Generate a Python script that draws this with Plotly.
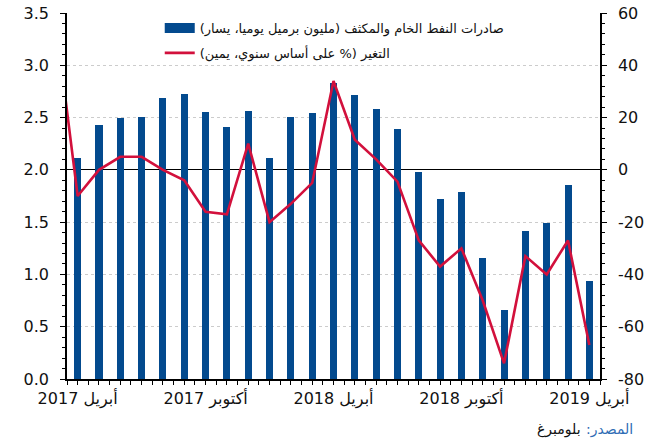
import plotly.graph_objects as go

# Months April 2017 .. April 2019 (25 months)
months = ["2017-04", "2017-05", "2017-06", "2017-07", "2017-08", "2017-09", "2017-10",
          "2017-11", "2017-12", "2018-01", "2018-02", "2018-03", "2018-04", "2018-05",
          "2018-06", "2018-07", "2018-08", "2018-09", "2018-10", "2018-11", "2018-12",
          "2019-01", "2019-02", "2019-03", "2019-04"]

# Crude & condensate exports (million bpd, left axis)
exports = [2.11, 2.43, 2.50, 2.51, 2.69, 2.73, 2.55, 2.41, 2.56, 2.11, 2.51, 2.54, 2.83,
           2.72, 2.58, 2.39, 1.98, 1.72, 1.79, 1.16, 0.66, 1.42, 1.49, 1.86, 0.94]

# YoY change (%, right axis) – first value is March 2017 (just left of the plot area)
change_months = ["2017-03"] + months
change = [55, -10, 0, 5, 5, 0, -4, -16, -17, 10, -20, -13, -5, 34, 11.5, 4, -4.5,
          -27, -37, -30, -50, -74, -33, -40, -27, -67]

tick_months = ["2017-04", "2017-10", "2018-04", "2018-10", "2019-04"]
tick_text = ["أبريل 2017", "أكتوبر 2017", "أبريل 2018", "أكتوبر 2018", "أبريل 2019"]

left_ticks = [0.0, 0.5, 1.0, 1.5, 2.0, 2.5, 3.0, 3.5]
right_ticks = [-80, -60, -40, -20, 0, 20, 40, 60]

bar_name = "صادرات النفط الخام والمكثف (مليون برميل يوميا، يسار)\u200f"
line_name = "التغير (% على أساس سنوي، يمين)\u200f"
source_label = "المصدر:\u200f"
source_name = "بلومبرغ"

BLUE = "#034a8e"
RED = "#d2103c"

base = "2017-04"
def idx(m):
    y, mo = map(int, m.split("-"))
    by, bm = map(int, base.split("-"))
    return (y - by) * 12 + (mo - bm)

x_bars = [idx(m) for m in months]
x_line = [idx(m) for m in change_months]
x_ticks = [idx(m) for m in tick_months]

fig = go.Figure()
fig.add_trace(go.Bar(x=x_bars, y=exports, width=0.33, marker=dict(color=BLUE, line=dict(width=0)),
                     showlegend=False, yaxis="y"))
fig.add_trace(go.Scatter(x=x_line, y=change, mode="lines", line=dict(color=RED, width=2.6),
                         showlegend=False, yaxis="y2"))
# legend entries
fig.add_trace(go.Scatter(x=[None], y=[None], mode="lines", line=dict(color=BLUE, width=11),
                         name=bar_name, legendgroup="a", yaxis="y"))
fig.add_trace(go.Scatter(x=[None], y=[None], mode="lines", line=dict(color=RED, width=2.6),
                         name=line_name, legendgroup="b", yaxis="y2"))

tickfont = dict(family="DejaVu Sans, Arial", size=16, color="#111111")

fig.update_layout(
    width=659, height=446,
    margin=dict(l=67, r=59, t=13, b=67, autoexpand=False),
    plot_bgcolor="white", paper_bgcolor="white",
    bargap=0,
    legend=dict(x=0.174, y=1.0, xanchor="left", yanchor="top",
                bgcolor="rgba(0,0,0,0)", font=dict(family="DejaVu Sans", size=13, color="#111111"),
                traceorder="grouped", tracegroupgap=5, itemwidth=30),
    xaxis=dict(range=[-0.5, 24.5], tickmode="array", tickvals=x_ticks, ticktext=tick_text,
               ticks="outside", ticklen=4, tickcolor="black", showline=True, linecolor="black",
               linewidth=1.5, showgrid=False, zeroline=False, tickfont=tickfont,
               minor=dict(tickmode="linear", tick0=-0.5, dtick=0.5, ticks="outside",
                          ticklen=4, tickcolor="black")),
    yaxis=dict(range=[0, 3.5], tickmode="array", tickvals=left_ticks,
               ticktext=[f"{v:.1f}" for v in left_ticks], ticks="outside", ticklen=5,
               tickcolor="black", showline=True, linecolor="black", linewidth=1.5,
               showgrid=True, gridcolor="#cccccc", griddash="dot", gridwidth=1,
               zeroline=False, tickfont=tickfont, ticklabelstandoff=8,
               minor=dict(tickmode="linear", tick0=0, dtick=0.1, ticks="outside", ticklen=3,
                          tickcolor="black", showgrid=False)),
    yaxis2=dict(range=[-80, 60], tickmode="array", tickvals=right_ticks,
                ticktext=[str(v) for v in right_ticks], overlaying="y", side="right",
                ticks="outside", ticklen=5, tickcolor="black", showline=True, linecolor="black",
                linewidth=1.5, showgrid=False, zeroline=True, zerolinecolor="black",
                zerolinewidth=1, tickfont=tickfont, ticklabelstandoff=8,
                minor=dict(tickmode="linear", tick0=0, dtick=4, ticks="outside", ticklen=3,
                           tickcolor="black", showgrid=False)),
)

fig.add_annotation(text=source_label, xref="paper", yref="paper", x=(635 - 67) / 533,
                   y=-(429 - 379) / 366, xanchor="right", yanchor="middle", showarrow=False,
                   font=dict(family="DejaVu Sans", size=14, color="#2f6db5"))
fig.add_annotation(text=source_name, xref="paper", yref="paper", x=(583 - 67) / 533,
                   y=-(429 - 379) / 366, xanchor="right", yanchor="middle", showarrow=False,
                   font=dict(family="DejaVu Sans", size=14, color="#111111"))

fig.write_html("out.html", config={"displayModeBar": False},
               post_script="document.body.style.margin='0';")
